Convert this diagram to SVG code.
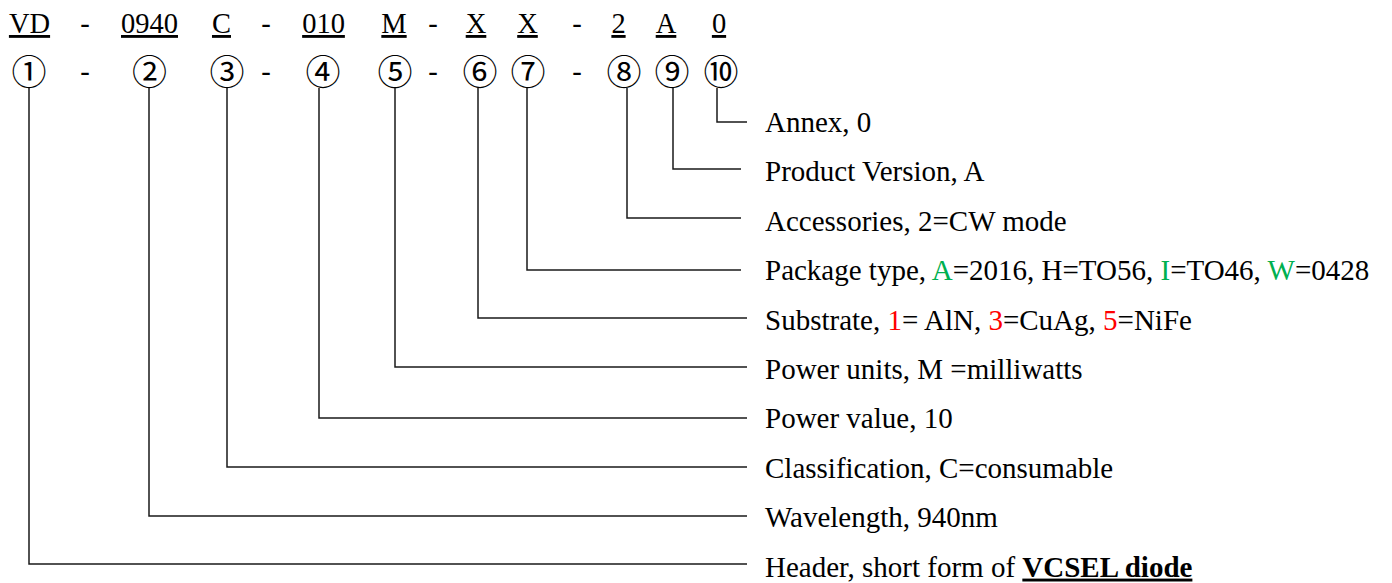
<svg xmlns="http://www.w3.org/2000/svg" width="1392" height="583" viewBox="0 0 1392 583">
<style>
.code{font-family:"Liberation Serif","Times New Roman",serif;font-size:28.5px;fill:#000;text-anchor:middle}
.u{text-decoration:underline}
.num{font-family:"Noto Sans CJK SC","DejaVu Sans",sans-serif;font-size:35px;fill:#000;text-anchor:middle}
.lbl{font-family:"Liberation Serif","Times New Roman",serif;font-size:29px;fill:#000}
.g{fill:#00B050}
.r{fill:#FF0000}
.b{font-weight:bold;text-decoration:underline}
.conn path{fill:none;stroke:#1a1a1a;stroke-width:1.5}
</style>
<rect width="1392" height="583" fill="#fff"/>
<g id="code-row">
<text class="code u" x="29.5" y="33">VD</text>
<text class="code" x="85" y="33">-</text>
<text class="code u" x="149.5" y="33">0940</text>
<text class="code u" x="221.5" y="33">C</text>
<text class="code" x="266" y="33">-</text>
<text class="code u" x="323.5" y="33">010</text>
<text class="code u" x="394" y="33">M</text>
<text class="code" x="433" y="33">-</text>
<text class="code u" x="476" y="33">X</text>
<text class="code u" x="527.5" y="33">X</text>
<text class="code" x="577" y="33">-</text>
<text class="code u" x="618.5" y="33">2</text>
<text class="code u" x="666" y="33">A</text>
<text class="code u" x="719" y="33">0</text>
</g>
<g id="index-row">
<text class="num" x="29" y="85">①</text>
<text class="code" x="85" y="81">-</text>
<text class="num" x="149.5" y="85">②</text>
<text class="num" x="227" y="85">③</text>
<text class="code" x="266" y="81">-</text>
<text class="num" x="323" y="85">④</text>
<text class="num" x="395" y="85">⑤</text>
<text class="code" x="433" y="81">-</text>
<text class="num" x="480" y="85">⑥</text>
<text class="num" x="528" y="85">⑦</text>
<text class="code" x="577" y="81">-</text>
<text class="num" x="624" y="85">⑧</text>
<text class="num" x="672" y="85">⑨</text>
<text class="num" x="721" y="85">⑩</text>
</g>
<g id="connectors" class="conn">
<path d="M717 88V122H747"/>
<path d="M673 88V169H741"/>
<path d="M627 88V218H741"/>
<path d="M527 88V270H741"/>
<path d="M478 88V318H747"/>
<path d="M395 88V367H747"/>
<path d="M319 88V418H747"/>
<path d="M227 88V467H747"/>
<path d="M149 88V516H747"/>
<path d="M29 88V564H747"/>
</g>
<g id="label-annex"><text class="lbl" x="765" y="132">Annex, 0</text></g>
<g id="label-version"><text class="lbl" x="765" y="181.4">Product Version, A</text></g>
<g id="label-accessories"><text class="lbl" x="765" y="230.8">Accessories, 2=CW mode</text></g>
<g id="label-package"><text class="lbl" x="765" y="280.2">Package type, <tspan class="g">A</tspan>=2016, H=TO56, <tspan class="g">I</tspan>=TO46, <tspan class="g">W</tspan>=0428</text></g>
<g id="label-substrate"><text class="lbl" x="765" y="329.6">Substrate, <tspan class="r">1</tspan>= AlN, <tspan class="r">3</tspan>=CuAg, <tspan class="r">5</tspan>=NiFe</text></g>
<g id="label-units"><text class="lbl" x="765" y="379">Power units, M =milliwatts</text></g>
<g id="label-power"><text class="lbl" x="765" y="428.4">Power value, 10</text></g>
<g id="label-class"><text class="lbl" x="765" y="477.8">Classification, C=consumable</text></g>
<g id="label-wavelength"><text class="lbl" x="765" y="527.2">Wavelength, 940nm</text></g>
<g id="label-header"><text class="lbl" x="765" y="576.6">Header, short form of <tspan class="b">VCSEL diode</tspan></text></g>
</svg>
